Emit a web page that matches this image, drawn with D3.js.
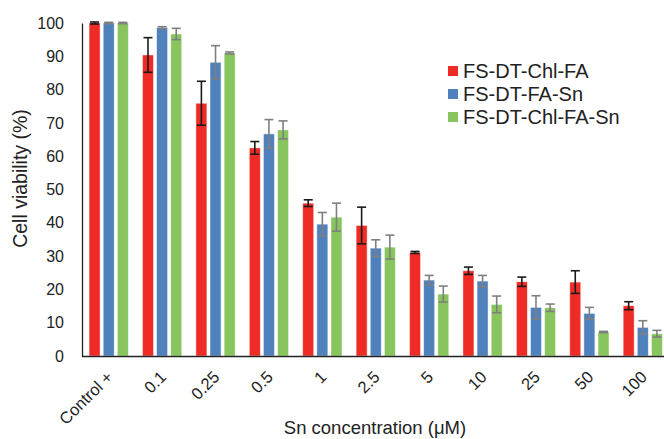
<!DOCTYPE html>
<html>
<head>
<meta charset="utf-8">
<script src="https://cdn.jsdelivr.net/npm/d3@7"></script>
<style>
  body { margin: 0; background: #fff; }
  svg { font-family: "Liberation Sans", Arial, sans-serif; }
</style>
</head>
<body>
<svg width="664" height="439"></svg>
<script>
// Chart data
const categories = ["Control +", "0.1", "0.25", "0.5", "1", "2.5", "5", "10", "25", "50", "100"];
const seriesNames = ["FS-DT-Chl-FA", "FS-DT-FA-Sn", "FS-DT-Chl-FA-Sn"];
const chlFA     = [100, 90.4, 75.9, 62.5, 45.9, 39.2, 31.1, 25.6, 22.3, 22.2, 15.1];
const chlFAErr  = [0.3, 5.2, 6.6, 1.9, 1.0, 5.5, 0.3, 1.1, 1.4, 3.4, 1.2];
const faSn      = [100, 98.6, 88.2, 66.7, 39.6, 32.4, 22.8, 22.5, 14.6, 12.8, 8.6];
const faSnErr   = [0.2, 0.3, 5.0, 4.3, 3.5, 2.5, 1.4, 1.7, 3.5, 1.8, 2.0];
const chlFASn    = [100, 96.7, 91.0, 67.9, 41.7, 32.7, 18.6, 15.5, 14.5, 7.2, 6.7];
const chlFASnErr = [0.2, 1.7, 0.3, 2.7, 4.2, 3.6, 2.4, 2.5, 1.1, 0.2, 1.0];
const yTicks = [0, 10, 20, 30, 40, 50, 60, 70, 80, 90, 100];

const colors = ["#ee2b24", "#4f81bd", "#88c55e"];
const errColors = ["#1a1a1a", "#7f7f7f", "#7f7f7f"];

const series = [
  { name: seriesNames[0], values: chlFA, errs: chlFAErr },
  { name: seriesNames[1], values: faSn, errs: faSnErr },
  { name: seriesNames[2], values: chlFASn, errs: chlFASnErr }
];

const svg = d3.select("svg");
const plotLeft = 82, plotRight = 669.5, plotTop = 23, plotBottom = 356;

const x = d3.scaleBand().domain(categories).range([plotLeft, plotRight]).paddingInner(0).paddingOuter(0);
const xs = d3.scaleBand().domain(d3.range(3)).range([0, x.bandwidth()]).paddingInner(0.22).paddingOuter(0.5);
const y = d3.scaleLinear().domain([0, 100]).range([plotBottom, plotTop]);

// Bars
const groups = svg.selectAll("g.series")
  .data(series)
  .join("g")
  .attr("class", "series");

groups.each(function(s, si) {
  const g = d3.select(this);
  const rows = categories.map((c, i) => ({ c, v: s.values[i], e: s.errs[i] }));
  g.selectAll("rect")
    .data(rows)
    .join("rect")
    .attr("x", d => x(d.c) + xs(si))
    .attr("y", d => y(d.v))
    .attr("width", xs.bandwidth())
    .attr("height", d => y(0) - y(d.v))
    .attr("fill", colors[si])
    .attr("stroke", "#fff")
    .attr("stroke-opacity", 0.6)
    .attr("stroke-width", 0.8);

  // Error bars
  const eb = g.selectAll("g.err").data(rows).join("g").attr("class", "err")
    .attr("stroke", errColors[si]).attr("stroke-width", 1.6);
  const cx = d => x(d.c) + xs(si) + xs.bandwidth() / 2;
  const cap = 4.5;
  eb.append("line").attr("x1", cx).attr("x2", cx)
    .attr("y1", d => y(d.v + d.e)).attr("y2", d => y(d.v - d.e));
  eb.append("line").attr("x1", d => cx(d) - cap).attr("x2", d => cx(d) + cap)
    .attr("y1", d => y(d.v + d.e)).attr("y2", d => y(d.v + d.e));
  eb.append("line").attr("x1", d => cx(d) - cap).attr("x2", d => cx(d) + cap)
    .attr("y1", d => y(d.v - d.e)).attr("y2", d => y(d.v - d.e));
});

// Y axis
const yAxis = svg.append("g")
  .attr("transform", `translate(${plotLeft},0)`)
  .call(d3.axisLeft(y).tickValues(yTicks).tickSize(0).tickPadding(18));
yAxis.select(".domain").attr("stroke", "#222").attr("stroke-width", 1.3);
yAxis.selectAll("text").attr("font-size", 16).attr("fill", "#222")
  .attr("font-family", "Liberation Sans, Arial, sans-serif");

// X axis
const xAxis = svg.append("g")
  .attr("transform", `translate(0,${plotBottom})`)
  .call(d3.axisBottom(x).tickSize(0).tickPadding(0));
xAxis.select(".domain").attr("stroke", "#222").attr("stroke-width", 1.3)
  .attr("d", `M${plotLeft},0.5H664`);
xAxis.selectAll(".tick text")
  .attr("font-size", 16.5).attr("fill", "#222")
  .attr("font-family", "Liberation Sans, Arial, sans-serif")
  .attr("text-anchor", "end")
  .attr("dy", null)
  .attr("transform", "translate(2,19) rotate(-45)")
  .attr("dominant-baseline", "middle");

// Axis titles
svg.append("text")
  .attr("transform", `translate(27,${(plotTop + plotBottom) / 2 - 11}) rotate(-90)`)
  .attr("text-anchor", "middle")
  .attr("font-size", 19.5).attr("fill", "#222")
  .text("Cell viability (%)");

svg.append("text")
  .attr("x", 375).attr("y", 434)
  .attr("text-anchor", "middle")
  .attr("font-size", 18.5).attr("fill", "#222")
  .text("Sn concentration (\u03bcM)");

// Legend
const legend = svg.append("g").attr("transform", "translate(448,66)");
const li = legend.selectAll("g").data(seriesNames).join("g")
  .attr("transform", (d, i) => `translate(0,${i * 23})`);
li.append("rect").attr("width", 10).attr("height", 10).attr("fill", (d, i) => colors[i]);
li.append("text").attr("x", 15).attr("y", 11.5)
  .attr("font-size", 20).attr("fill", "#222")
  .text(d => d);
</script>
</body>
</html>
